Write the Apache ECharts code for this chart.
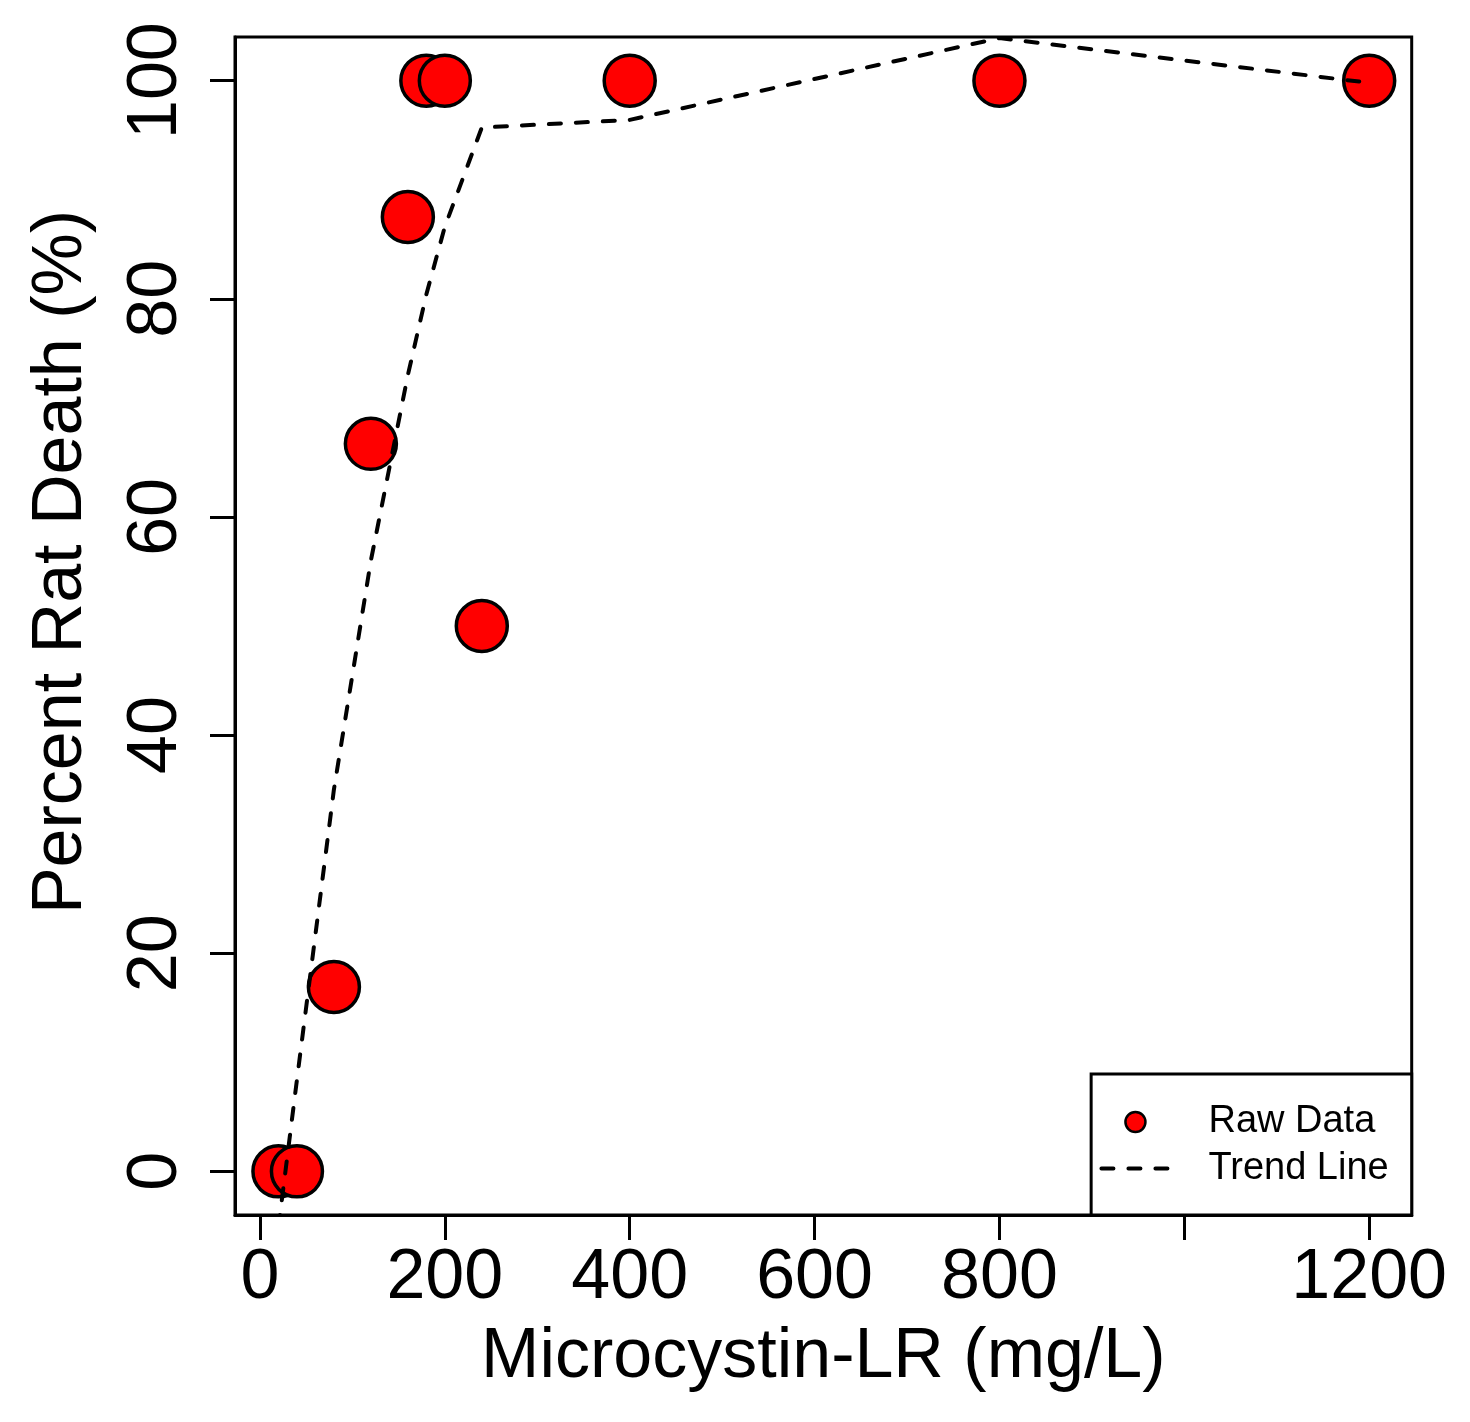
<!DOCTYPE html>
<html>
<head>
<meta charset="utf-8">
<title>Microcystin-LR dose response</title>
<script src="https://cdn.jsdelivr.net/npm/echarts@6/dist/echarts.min.js"></script>
<style>
  html, body { margin: 0; padding: 0; background: #fff; }
  #chart { width: 1470px; height: 1422px; }
</style>
</head>
<body>
<div id="chart"></div>
<script>
const doseMgL = [20, 40, 80, 120, 160, 180, 200, 240, 400, 800, 1200];
const deathPct = [0, 0, 16.9, 66.7, 87.5, 100, 100, 50, 100, 100, 100];
// fitted trend evaluated at the same doses
const trendPct = [-5.1, 8.4, 35, 56, 73, 80.4, 86.6, 95.7, 96.4, 103.9, 99.8];

const xTicks = [0, 200, 400, 600, 800, 1000, 1200];
const xLabels = [0, 200, 400, 600, 800, 1200];
const yTicks = [0, 20, 40, 60, 80, 100];

const font = 'Liberation Sans';
const dash = [12, 15];

let chart = echarts.init(document.getElementById('chart'), null, { renderer: 'canvas' });

chart.setOption({
    animation: false,
    backgroundColor: '#fff',
    textStyle: { fontFamily: font },
    grid: {
        left: 235,
        right: 58.3,
        top: 37,
        bottom: 207,
        show: true,
        borderColor: '#000',
        borderWidth: 3
    },
    xAxis: {
        type: 'value',
        min: -27,
        max: 1246,
        name: 'Microcystin-LR (mg/L)',
        nameLocation: 'middle',
        nameGap: 108,
        nameTextStyle: { fontSize: 70, color: '#000', fontFamily: font },
        axisLine: { show: true, onZero: false, lineStyle: { color: '#000', width: 3 } },
        axisTick: {
            show: true,
            length: 25,
            customValues: xTicks,
            lineStyle: { color: '#000', width: 3 }
        },
        axisLabel: {
            customValues: xLabels,
            formatter: v => String(v),
            margin: 29,
            fontSize: 70,
            color: '#000',
            fontFamily: font
        },
        splitLine: { show: false }
    },
    yAxis: {
        type: 'value',
        min: -4,
        max: 104,
        name: 'Percent Rat Death (%)',
        nameLocation: 'middle',
        nameRotate: 90,
        nameGap: 138,
        nameTextStyle: { fontSize: 70, color: '#000', fontFamily: font, padding: [0, 0, 0, 128] },
        axisLine: { show: true, onZero: false, lineStyle: { color: '#000', width: 3 } },
        axisTick: {
            show: true,
            length: 25,
            customValues: yTicks,
            lineStyle: { color: '#000', width: 3 }
        },
        axisLabel: {
            customValues: yTicks,
            formatter: v => String(v),
            rotate: 90,
            margin: 43,
            fontSize: 70,
            color: '#000',
            fontFamily: font
        },
        splitLine: { show: false }
    },
    legend: {
        orient: 'vertical',
        right: 58.3,
        bottom: 207,
        backgroundColor: '#fff',
        borderColor: '#000',
        borderWidth: 3,
        borderRadius: 0,
        padding: [28, 23, 26.5, 8.3],
        itemWidth: 68,
        itemHeight: 20,
        itemGap: 6.5,
        textStyle: { fontSize: 38, color: '#000', lineHeight: 40, fontFamily: font, padding: [0, 0, 0, 34] },
        data: [
            { name: 'Raw Data', icon: 'circle', itemStyle: { color: '#ff0000', borderColor: '#000', borderWidth: 2.5 } },
            {
                name: 'Trend Line',
                itemStyle: { color: 'rgba(0,0,0,0)', borderWidth: 0, opacity: 0 },
                lineStyle: { color: '#000', width: 4, type: dash, cap: 'round' }
            }
        ]
    },
    series: [{
        name: 'Raw Data',
        type: 'scatter',
        symbol: 'circle',
        symbolSize: 51,
        itemStyle: { color: '#ff0000', borderColor: '#000', borderWidth: 3.5, opacity: 1 },
        data: doseMgL.map((x, i) => [x, deathPct[i]]),
        z: 2
    }, {
        name: 'Trend Line',
        type: 'line',
        showSymbol: false,
        symbol: 'none',
        clip: true,
        itemStyle: { color: '#000' },
        lineStyle: { color: '#000', width: 4, type: dash, cap: 'round' },
        data: doseMgL.map((x, i) => [x, trendPct[i]]),
        z: 3
    }]
});
</script>
</body>
</html>
